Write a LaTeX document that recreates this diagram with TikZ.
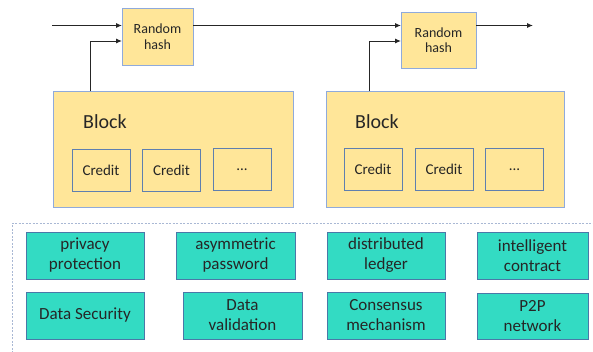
\documentclass[tikz,border=0pt]{standalone}
\usepackage{fontspec}
\setmainfont{Carlito}
\usetikzlibrary{arrows.meta}
\definecolor{ylw}{HTML}{FFE699}
\definecolor{ylwb}{HTML}{8FAADC}
\definecolor{crb}{HTML}{5F7FAF}
\definecolor{teal2}{HTML}{33DBC3}
\definecolor{tealb}{HTML}{4A78A8}
\definecolor{dsh}{HTML}{A9B8D4}
\definecolor{txt}{HTML}{262626}
\tikzset{
  hashbox/.style={draw=ylwb, fill=ylw, line width=1pt, inner sep=0pt, outer sep=0pt, align=center, text=txt, font=\fontsize{14}{15.5}\selectfont},
  blockbox/.style={draw=ylwb, fill=ylw, line width=1pt, inner sep=0pt, outer sep=0pt},
  creditbox/.style={draw=crb, fill=ylw, line width=0.9pt, inner sep=0pt, outer sep=0pt, minimum width=58pt, minimum height=42pt, text=txt, font=\fontsize{15}{17}\selectfont},
  featbox/.style={draw=tealb, fill=teal2, line width=1pt, inner sep=0pt, outer sep=0pt, minimum width=118pt, minimum height=47pt, align=center, text=txt, font=\fontsize{17}{20}\selectfont},
  arr/.style={-{Latex[length=6pt,width=5pt]}, line width=1pt, draw=black!85},
  lbl/.style={text=txt, font=\fontsize{20}{22}\selectfont, inner sep=0pt}
}
\begin{document}
\begin{tikzpicture}[x=1pt,y=-1pt]
\useasboundingbox (0,0) rectangle (593,351);
\fill[white] (0,0) rectangle (593,351);
% dashed frame
\draw[dsh, dashed, line width=0.9pt, dash pattern=on 2pt off 1.5pt] (12,360) -- (12,223) -- (600,223);
% hash boxes
\node[hashbox, minimum width=71pt, minimum height=57pt] (h1) at (157.5,36.5) {Random\\hash};
\node[hashbox, minimum width=75pt, minimum height=56pt] (h2) at (438.5,40) {Random\\hash};
% blocks
\node[blockbox, minimum width=240pt, minimum height=116pt] (b1) at (173,149) {};
\node[blockbox, minimum width=238pt, minimum height=116pt] (b2) at (445,149) {};
\node[lbl] (l1) at (105,122) {Block};
\node[lbl] (l2) at (377,122) {Block};
\node[creditbox] (c11) at (101,170.5) {Credit};
\node[creditbox] (c12) at (171.5,170.5) {Credit};
\node[creditbox] (c13) at (242,169.5) {...};
\node[creditbox] (c21) at (373,169.5) {Credit};
\node[creditbox] (c22) at (444,169.5) {Credit};
\node[creditbox] (c23) at (514.5,169.5) {...};
% connectors
\coordinate (s0) at (52,25.5);
\coordinate (e0) at (533,25.5);
\coordinate (k1) at (90,41);
\coordinate (k2) at (369,41);
\draw[arr] (s0) -- (s0 -| h1.west);
\draw[arr] (h1.east |- s0) -- (s0 -| h2.west);
\draw[arr] (h2.east |- s0) -- (e0);
\draw[arr] (k1 |- b1.north) -- (k1) -- (k1 -| h1.west);
\draw[arr] (k2 |- b2.north) -- (k2) -- (k2 -| h2.west);
% feature boxes
\node[featbox] (f1) at (85,255.5) {privacy\\protection};
\node[featbox, minimum width=119pt] (f2) at (235.5,255.5) {asymmetric\\password};
\node[featbox] (f3) at (386,255.5) {distributed\\ledger};
\node[featbox, minimum width=111pt] (f4) at (532.5,255.5) {intelligent\\contract};
\node[featbox] (f5) at (85,315.5) {Data Security};
\node[featbox, minimum width=119pt] (f6) at (242.5,315.5) {Data\\validation};
\node[featbox] (f7) at (386,315.5) {Consensus\\mechanism};
\node[featbox, minimum width=111pt, minimum height=46pt] (f8) at (532.5,316) {P2P\\network};
\end{tikzpicture}
\end{document}
